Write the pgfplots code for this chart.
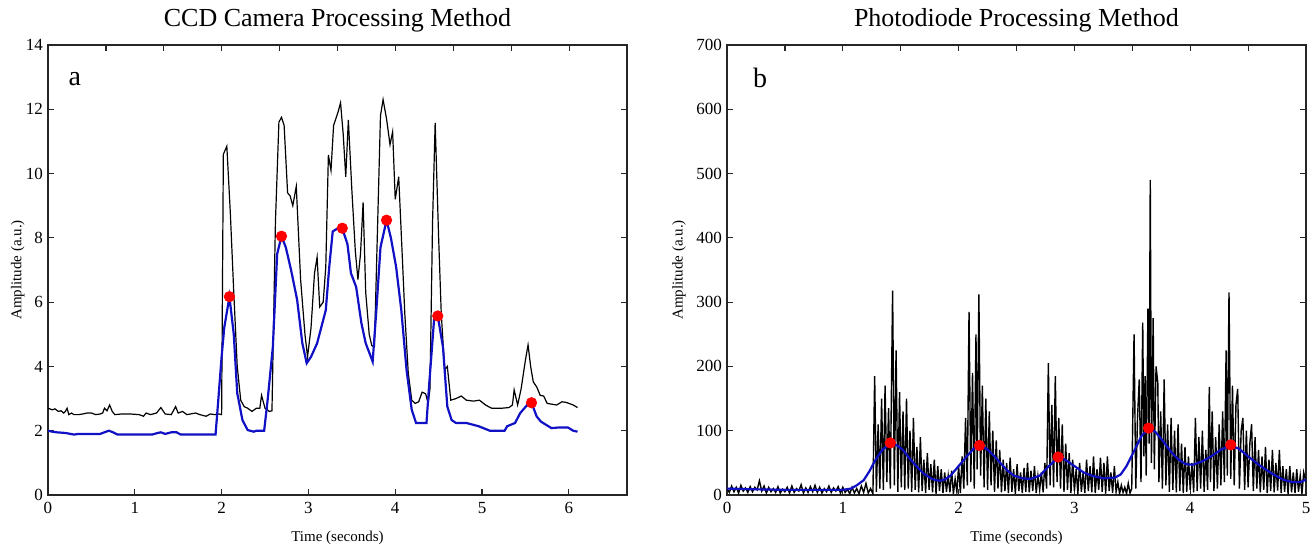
\documentclass[border=0pt]{standalone}
\usepackage{pgfplots}
\pgfplotsset{compat=1.18}
\usepackage{fontspec}
\setmainfont{Liberation Serif}
\definecolor{fitblue}{RGB}{16,16,196}
\pgfplotsset{
  panel/.style={
    scale only axis, width=289.5pt, height=225pt, anchor=south west,
    tick align=inside, xtick pos=bottom, ytick pos=both,
    axis line style={line width=0.7pt, black!85},
    tick style={line width=0.6pt, black!85},
    major tick length=3pt,
    /pgf/number format/assume math mode=true,
    tick label style={font=\fontsize{8.5}{10}\selectfont},
    title style={font=\fontsize{13}{15}\selectfont, at={(axis description cs:0.5,1)}, anchor=base, yshift=3pt},
    label style={font=\fontsize{7.5}{9}\selectfont},
    xlabel style={at={(axis description cs:0.5,0)}, anchor=base, yshift=-23.5pt},
    yticklabel style={xshift=1pt},
  },
  topticks/.style={
    scale only axis, width=289.5pt, height=225pt, anchor=south west,
    axis x line*=top, axis y line=none, tick align=inside,
    axis line style={line width=0.7pt, black!85},
    tick style={line width=0.6pt, black!85},
    major tick length=3pt, xticklabels={},
  },
  raw/.style={black, line width=0.6pt},
  fit/.style={fitblue, line width=1.1pt},
  pk/.style={only marks, mark=*, mark size=2.6pt, red, mark options={fill=red, draw=red}},
}
\begin{document}
\begin{tikzpicture}
\path[use as bounding box] (-24pt,-27.5pt) rectangle (633.5pt,247.5pt);
% ---- a: CCD camera ----
\begin{axis}[panel, at={(0,0)},
  xmin=0, xmax=6.67, ymin=0, ymax=14,
  xtick={0,...,6}, ytick={0,2,...,14},
  title={CCD Camera Processing Method},
  xlabel={Time (seconds)}, ylabel={Amplitude (a.u.)},
  ylabel style={at={(axis description cs:-0.052,0.5)}, anchor=center}]
\addplot[raw] coordinates {
(0,2.7)(0.05,2.65)(0.08,2.68)(0.12,2.6)(0.15,2.62)(0.18,2.55)(0.2,2.6)(0.22,2.7)(0.24,2.5)(0.27,2.55)
(0.3,2.5)(0.35,2.5)(0.4,2.52)(0.45,2.55)(0.5,2.55)(0.55,2.5)(0.6,2.52)(0.63,2.55)(0.65,2.7)(0.68,2.62)
(0.71,2.8)(0.74,2.6)(0.77,2.5)(0.85,2.52)(0.95,2.52)(1.05,2.5)(1.1,2.45)(1.13,2.55)(1.18,2.5)(1.25,2.55)
(1.3,2.72)(1.35,2.52)(1.42,2.5)(1.47,2.75)(1.5,2.55)(1.55,2.6)(1.6,2.5)(1.7,2.55)(1.75,2.5)(1.82,2.45)
(1.87,2.52)(1.92,2.5)(1.97,2.52)(2.0,2.5)(2.02,10.6)(2.06,10.85)(2.1,8.8)(2.14,6.3)(2.18,4.0)(2.22,2.95)
(2.26,2.75)(2.3,2.7)(2.35,2.6)(2.4,2.7)(2.44,2.7)(2.46,3.1)(2.5,2.7)(2.55,2.6)(2.58,2.62)(2.62,8.5)
(2.66,11.6)(2.69,11.75)(2.72,11.5)(2.76,9.4)(2.79,9.3)(2.82,9.0)(2.86,9.6)(2.91,6.7)(2.96,5.0)(2.99,4.3)
(3.03,5.2)(3.07,6.9)(3.1,7.4)(3.13,5.85)(3.17,6.0)(3.2,7.1)(3.23,10.58)(3.26,10.1)(3.29,11.5)(3.34,11.9)
(3.37,12.2)(3.4,11.25)(3.43,9.9)(3.46,11.67)(3.5,9.5)(3.54,7.6)(3.57,6.7)(3.6,7.5)(3.63,9.1)(3.66,6.3)
(3.7,5.0)(3.73,4.65)(3.76,4.6)(3.83,11.8)(3.86,12.3)(3.9,11.7)(3.94,10.9)(3.97,11.3)(4.0,9.2)(4.04,9.9)
(4.08,7.5)(4.11,5.65)(4.15,3.8)(4.19,2.95)(4.23,2.85)(4.27,2.9)(4.31,3.2)(4.35,3.15)(4.38,2.85)(4.4,3.3)
(4.43,8.5)(4.46,11.58)(4.5,8.0)(4.53,5.65)(4.57,3.9)(4.6,4.0)(4.64,2.95)(4.7,3.0)(4.76,3.08)(4.82,2.95)
(4.9,2.92)(4.97,2.95)(5.04,2.8)(5.11,2.7)(5.23,2.7)(5.31,2.72)(5.35,2.8)(5.37,3.27)(5.41,2.8)(5.45,3.3)
(5.5,4.2)(5.53,4.67)(5.56,4.0)(5.59,3.52)(5.63,3.36)(5.67,3.1)(5.71,3.08)(5.75,2.85)(5.86,2.8)(5.92,2.9)
(5.97,2.88)(6.0,2.85)(6.05,2.8)(6.1,2.72)
};
\addplot[fit] coordinates {
(0,2.0)(0.05,1.97)(0.1,1.95)(0.2,1.93)(0.3,1.88)(0.35,1.9)(0.5,1.9)(0.6,1.9)(0.65,1.95)(0.7,2.0)
(0.75,1.95)(0.8,1.88)(1.0,1.88)(1.2,1.88)(1.25,1.92)(1.3,1.95)(1.35,1.9)(1.42,1.95)(1.48,1.95)(1.53,1.88)
(1.93,1.88)(1.95,2.55)(2.0,4.3)(2.03,5.2)(2.09,6.17)(2.14,5.0)(2.18,3.17)(2.24,2.33)(2.3,2.02)(2.37,1.97)
(2.4,2.0)(2.49,2.0)(2.53,2.95)(2.59,4.6)(2.64,7.5)(2.69,8.05)(2.74,7.7)(2.8,7.0)(2.87,6.07)(2.93,4.72)
(2.98,4.1)(3.03,4.3)(3.1,4.72)(3.2,5.75)(3.24,7.1)(3.28,8.2)(3.34,8.3)(3.39,8.3)(3.45,7.8)(3.49,6.9)
(3.55,6.47)(3.61,5.35)(3.66,4.72)(3.74,4.15)(3.78,5.65)(3.83,7.7)(3.9,8.55)(3.95,8.0)(4.01,7.1)(4.07,5.75)
(4.13,3.9)(4.19,2.65)(4.24,2.24)(4.36,2.24)(4.39,3.4)(4.45,5.55)(4.49,5.57)(4.55,4.6)(4.6,2.75)(4.65,2.33)
(4.7,2.24)(4.82,2.24)(4.96,2.14)(5.09,2.0)(5.26,2.0)(5.29,2.14)(5.38,2.24)(5.44,2.55)(5.52,2.8)(5.57,2.87)
(5.63,2.44)(5.68,2.28)(5.8,2.08)(5.88,2.1)(5.99,2.1)(6.05,2.0)(6.1,1.97)
};
\addplot[pk] coordinates {(2.09,6.17)(2.69,8.05)(3.39,8.3)(3.9,8.55)(4.49,5.57)(5.57,2.87)};
\node[font=\fontsize{14}{16}\selectfont] at (axis cs:0.31,12.95) {a};
\end{axis}
\begin{axis}[topticks, at={(0,0)}, xmin=0, xmax=6.67, ymin=0, ymax=14,
  xtick={0.667,1.334,2.001,2.668,3.335,4.002,4.669,5.336,6.003}]
\end{axis}
% ---- b: photodiode ----
\begin{axis}[panel, at={(339.5pt,0)},
  xmin=0, xmax=5, ymin=0, ymax=700,
  xtick={0,...,5}, ytick={0,100,...,700},
  title={Photodiode Processing Method},
  xlabel={Time (seconds)}, ylabel={Amplitude (a.u.)},
  ylabel style={at={(axis description cs:-0.083,0.5)}, anchor=center}]
\addplot[raw, line width=0.7pt] coordinates {
(0,10)(0.02,4)(0.04,14)(0.06,5)(0.08,12)(0.1,3)(0.12,15)(0.14,6)(0.16,11)(0.18,4)(0.2,13)(0.22,5)
(0.24,12)(0.26,8)(0.28,22)(0.3,6)(0.32,14)(0.34,3)(0.36,12)(0.38,5)(0.4,10)(0.42,4)(0.44,13)(0.46,3)
(0.48,9)(0.5,5)(0.52,12)(0.54,3)(0.56,14)(0.58,4)(0.6,10)(0.62,6)(0.64,16)(0.66,3)(0.68,11)(0.7,4)
(0.72,13)(0.74,5)(0.76,15)(0.78,4)(0.8,12)(0.82,3)(0.84,10)(0.86,5)(0.88,14)(0.9,4)(0.92,11)(0.94,6)
(0.96,13)(0.98,3)(1.0,12)(1.02,4)(1.04,9)(1.06,2)(1.08,12)(1.1,3)(1.12,10)(1.14,2)(1.16,14)(1.18,4)
(1.2,18)(1.22,3)(1.24,10)(1.26,2)
(1.275,185)(1.29,5)(1.305,110)(1.32,10)(1.335,150)(1.35,8)(1.365,170)(1.38,20)(1.395,135)(1.41,10)
(1.43,318)(1.445,15)(1.46,225)(1.475,5)(1.49,160)(1.505,12)(1.52,130)(1.535,8)(1.55,150)(1.565,10)
(1.58,100)(1.595,5)(1.61,120)(1.625,8)(1.64,75)(1.655,4)(1.67,90)(1.685,6)(1.70,55)(1.715,3)
(1.73,65)(1.745,8)(1.76,48)(1.775,4)(1.79,55)(1.805,2)(1.82,45)(1.835,6)(1.85,40)(1.865,3)
(1.88,35)(1.895,5)(1.91,30)(1.925,4)(1.94,38)(1.955,2)(1.97,25)(1.985,5)(2.0,45)(2.015,3)(2.03,60)(2.045,10)
(2.06,120)(2.075,15)(2.09,285)(2.105,20)(2.12,190)(2.135,10)(2.15,250)(2.16,40)(2.175,312)(2.19,30)
(2.205,170)(2.22,12)(2.235,150)(2.25,8)(2.265,130)(2.28,15)(2.295,100)(2.31,5)(2.325,85)(2.34,10)
(2.355,70)(2.37,4)(2.385,55)(2.4,6)(2.415,50)(2.43,3)(2.445,58)(2.46,5)(2.475,40)(2.49,2)
(2.505,48)(2.52,6)(2.535,35)(2.55,3)(2.565,42)(2.58,5)(2.595,50)(2.61,4)(2.625,38)(2.64,6)
(2.655,45)(2.67,3)(2.685,30)(2.70,8)(2.715,35)(2.73,4)(2.745,50)(2.76,10)
(2.775,205)(2.79,15)(2.805,140)(2.82,12)(2.835,185)(2.85,20)(2.865,120)(2.88,10)(2.895,110)(2.91,5)
(2.925,80)(2.94,8)(2.955,65)(2.97,3)(2.985,55)(3.0,6)(3.015,40)(3.03,2)(3.045,50)(3.06,5)
(3.075,35)(3.09,3)(3.105,55)(3.12,6)(3.135,45)(3.15,4)(3.165,60)(3.18,3)(3.195,40)(3.21,8)
(3.225,58)(3.24,5)(3.255,50)(3.27,2)(3.285,60)(3.30,6)(3.315,35)(3.33,3)(3.345,45)(3.36,5)
(3.375,20)(3.39,2)(3.405,15)(3.42,4)(3.435,12)(3.45,2)(3.465,18)(3.48,3)(3.495,10)
(3.515,250)(3.53,10)(3.545,120)(3.56,180)(3.575,20)(3.59,268)(3.6,60)(3.61,185)(3.62,30)(3.635,290)
(3.645,80)(3.655,490)(3.665,50)(3.68,275)(3.69,40)(3.705,200)(3.72,175)(3.73,20)(3.745,130)(3.76,10)
(3.775,180)(3.79,15)(3.805,110)(3.82,5)(3.835,120)(3.85,8)(3.865,100)(3.88,4)(3.895,110)(3.91,6)
(3.925,80)(3.94,3)(3.955,75)(3.97,5)(3.985,60)(4.0,8)(4.015,50)(4.03,4)
(4.045,120)(4.06,6)(4.075,90)(4.09,10)(4.105,100)(4.12,5)(4.135,70)(4.15,8)(4.165,168)(4.175,20)
(4.19,130)(4.205,6)(4.22,90)(4.235,10)(4.25,110)(4.265,15)(4.28,130)(4.295,20)(4.31,225)(4.32,30)
(4.335,315)(4.35,25)(4.365,170)(4.38,15)(4.395,140)(4.41,165)(4.425,10)(4.44,100)(4.455,120)(4.47,8)
(4.485,100)(4.5,12)(4.515,80)(4.53,110)(4.545,6)(4.56,90)(4.575,10)(4.59,70)(4.605,4)(4.62,60)
(4.635,8)(4.65,75)(4.665,3)(4.68,55)(4.695,6)(4.71,70)(4.725,4)(4.74,50)(4.755,7)(4.77,70)
(4.785,3)(4.8,45)(4.815,5)(4.83,40)(4.845,2)(4.86,45)(4.875,4)(4.89,35)(4.905,3)(4.92,40)
(4.935,5)(4.95,30)(4.965,2)(4.98,35)(5.0,20)
};
\addplot[fit] coordinates {
(0,10)(0.2,9)(0.5,8)(0.8,8)(1.0,8)(1.07,10)(1.12,15)(1.18,23)(1.23,37)(1.28,54)(1.34,70)(1.41,80)
(1.47,77)(1.52,70)(1.58,56)(1.64,44)(1.7,33)(1.77,25)(1.83,22)(1.88,24)(1.93,30)(2.0,45)(2.07,60)
(2.13,72)(2.18,77)(2.24,72)(2.3,62)(2.36,50)(2.42,38)(2.48,30)(2.55,26)(2.62,25)(2.7,30)(2.78,45)
(2.86,58)(2.92,55)(3.0,45)(3.08,35)(3.15,30)(3.25,26)(3.35,27)(3.4,32)(3.45,45)(3.52,70)(3.58,92)
(3.64,103)(3.7,98)(3.76,85)(3.83,68)(3.9,55)(3.96,48)(4.02,47)(4.1,52)(4.18,60)(4.26,70)(4.35,77)
(4.42,72)(4.5,60)(4.6,46)(4.7,34)(4.8,24)(4.88,20)(4.95,20)(5.0,24)
};
\addplot[pk] coordinates {(1.41,81)(2.18,77)(2.86,59)(3.64,104)(4.35,78)};
\node[font=\fontsize{14}{16}\selectfont] at (axis cs:0.285,648) {b};
\end{axis}
\begin{axis}[topticks, at={(339.5pt,0)}, xmin=0, xmax=5, ymin=0, ymax=700,
  xtick={0.5,1,...,4.5}]
\end{axis}
\end{tikzpicture}
\end{document}
